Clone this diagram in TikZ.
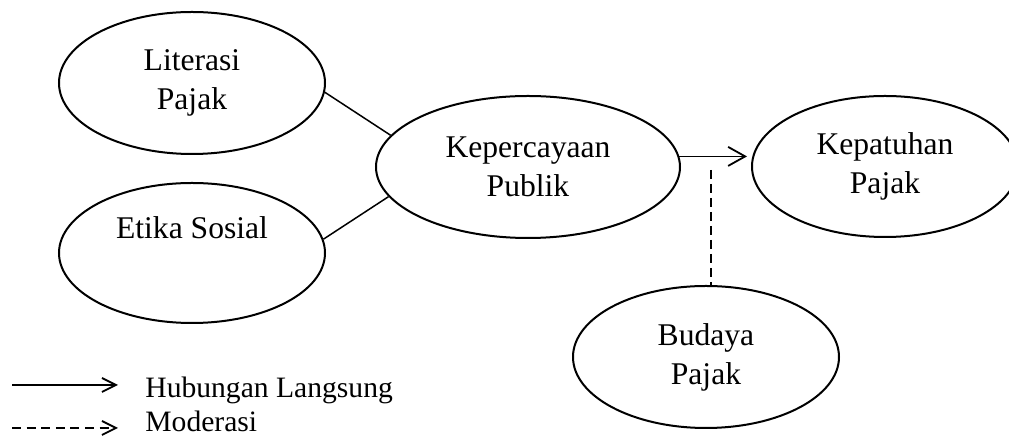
\documentclass[tikz,border=0pt]{standalone}
\usepackage{fontspec}
\setmainfont{Liberation Serif}
\usetikzlibrary{arrows.meta,shapes.geometric,calc}
\begin{document}
\begin{tikzpicture}[x=0.5pt,y=-0.5pt,
  var/.style={ellipse,draw,line width=1pt,inner sep=0pt,align=center,
    font=\fontsize{15.8}{19.5}\selectfont},
  conn/.style={line width=0.75pt},
  mainarrow/.style={line width=0.75pt,-{Straight Barb[length=8.5pt,width=9.5pt,line width=0.9pt]},shorten >=2pt},
  legarrow/.style={line width=0.75pt,-{Straight Barb[length=7pt,width=7pt,line width=0.9pt]}},
  moddash/.style={line width=0.9pt,dash pattern=on 4.5pt off 2.5pt},
  legtext/.style={anchor=base west,inner sep=0pt,font=\fontsize{14.8}{17}\selectfont}]
\useasboundingbox (0,0) rectangle (1009,437);
\node[var,minimum width=133pt,minimum height=71pt] (lit) at (192,83) {Literasi\\Pajak};
\node[var,minimum width=133pt,minimum height=70pt] (eti) at (192,253) {Etika Sosial\\\strut};
\node[var,minimum width=152pt,minimum height=71pt] (kep) at (528,167) {Kepercayaan\\Publik};
\node[var,minimum width=133pt,minimum height=70.5pt] (kpt) at (885,166.5) {Kepatuhan\\Pajak};
\node[var,minimum width=133pt,minimum height=71pt] (bud) at (706,357) {Budaya\\Pajak};
\draw[conn] (lit.-4) -- (kep.167);
\draw[conn] (eti.6) -- (kep.192.5);
\draw[mainarrow] (kep.4) -- (kep.4 -| kpt.west);
\coordinate (modtop) at (711,170);
\draw[moddash] (modtop) -- (modtop |- bud.north);
% legend
\coordinate (l1s) at (12,385);
\coordinate (l1e) at (118,385);
\coordinate (l2s) at (12,428);
\coordinate (l2e) at (118,428);
\draw[legarrow] (l1s) -- (l1e);
\draw[legarrow,dash pattern=on 4.5pt off 2.8pt] (l2s) -- (l2e);
\node[legtext] (t1) at (145,398) {Hubungan Langsung};
\node[legtext] (t2) at (145,432) {Moderasi};
\end{tikzpicture}
\end{document}
